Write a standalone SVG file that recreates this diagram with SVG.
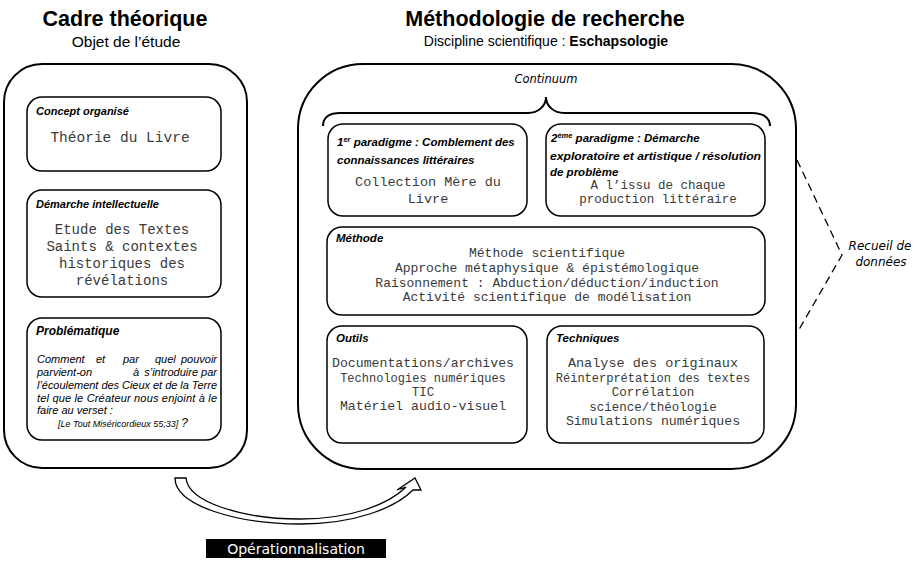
<svg xmlns="http://www.w3.org/2000/svg" width="917" height="564" viewBox="0 0 917 564">
<defs>
<style>
.outer{fill:#fff;stroke:#000;stroke-width:2}
.box{fill:#fff;stroke:#000;stroke-width:1.5}
.title{font-family:"Liberation Sans",Arial,sans-serif;font-weight:bold;font-size:21.5px;fill:#000;text-anchor:middle}
.sub{font-family:"Liberation Sans",Arial,sans-serif;font-size:14px;fill:#000;text-anchor:middle}
.lab{font-family:"Liberation Sans",Arial,sans-serif;font-weight:bold;font-style:italic;font-size:11px;fill:#000}
.mono{font-family:"Liberation Mono","Courier New",monospace;font-size:13px;fill:#3a3a3a;text-anchor:middle}
.it{font-family:"Liberation Sans",Arial,sans-serif;font-style:italic;font-size:11px;fill:#000}
.dv{font-family:"DejaVu Sans",Verdana,sans-serif;font-style:italic;font-size:12px;fill:#000;text-anchor:middle}
.conn{fill:none;stroke:#000}
</style>
</defs>
<rect width="917" height="564" fill="#fff"/>

<g id="titles">
<text class="title" x="125" y="26">Cadre théorique</text>
<text class="sub" x="126" y="47" style="font-size:15.5px">Objet de l’étude</text>
<text class="title" x="545" y="26">Méthodologie de recherche</text>
<text class="sub" x="546" y="46">Discipline scientifique : <tspan font-weight="bold">Eschapsologie</tspan></text>
</g>

<g id="cadre-theorique">
<rect class="outer" x="4" y="64" width="243" height="404" rx="38"/>
</g>

<g id="concept-organise">
<rect class="box" x="27" y="97" width="194" height="74" rx="15"/>
<text class="lab" x="36" y="115">Concept organisé</text>
<text class="mono" x="120" y="142" style="font-size:14.5px">Théorie du Livre</text>
</g>

<g id="demarche-intellectuelle">
<rect class="box" x="27" y="190" width="194" height="107" rx="15"/>
<text class="lab" x="36" y="208">Démarche intellectuelle</text>
<text class="mono" style="font-size:14px"><tspan x="122" y="234">Etude des Textes</tspan><tspan x="122" y="251">Saints &amp; contextes</tspan><tspan x="122" y="268">historiques des</tspan><tspan x="122" y="285">révélations</tspan></text>
</g>

<g id="problematique">
<rect class="box" x="27" y="318" width="194" height="122" rx="15"/>
<text class="lab" x="36" y="335" style="font-size:12px">Problématique</text>
<text class="it" x="37" y="363">Comment</text>
<text class="it" x="96" y="363">et</text>
<text class="it" x="123" y="363">par</text>
<text class="it" x="155" y="363">quel</text>
<text class="it" x="217" y="363" text-anchor="end">pouvoir</text>
<text class="it" x="37" y="376">parvient-on</text>
<text class="it" x="133" y="376">à</text>
<text class="it" x="217" y="376" text-anchor="end">s’introduire par</text>
<text class="it" x="37" y="389" textLength="180" lengthAdjust="spacing">l’écoulement des Cieux et de la Terre</text>
<text class="it" x="37" y="402" textLength="180" lengthAdjust="spacing">tel que le Créateur nous enjoint à le</text>
<text class="it" x="37" y="414">faire au verset :</text>
<text class="it" x="58" y="427"><tspan style="font-size:9px">[Le Tout Miséricordieux 55;33]</tspan> <tspan style="font-size:12px">?</tspan></text>
</g>

<g id="methodologie">
<rect class="outer" x="298" y="64" width="498" height="405" rx="65"/>
<text class="dv" x="546" y="83" style="font-size:11.5px">Continuum</text>
</g>

<g id="paradigme-1">
<rect class="box" x="328" y="124" width="199" height="92" rx="15"/>
<text class="lab" style="font-size:11.5px"><tspan x="337" y="146">1<tspan dy="-4" style="font-size:7.5px">er</tspan><tspan dy="4"> paradigme : Comblement des</tspan></tspan><tspan x="337" y="164">connaissances littéraires</tspan></text>
<text class="mono" style="font-size:13.5px"><tspan x="428" y="186">Collection Mère du</tspan><tspan x="428" y="203">Livre</tspan></text>
</g>

<g id="paradigme-2">
<rect class="box" x="546" y="124" width="219" height="92" rx="15"/>
<text class="lab" style="font-size:11.5px"><tspan x="551" y="142">2<tspan dy="-4" style="font-size:7.5px">ème</tspan><tspan dy="4"> paradigme : Démarche</tspan></tspan></text>
<text class="lab" x="550" y="160" style="font-size:11.5px" textLength="211" lengthAdjust="spacingAndGlyphs">exploratoire et artistique / résolution</text>
<text class="lab" x="550" y="176" style="font-size:11.5px">de problème</text>
<text class="mono" style="font-size:12.5px"><tspan x="658" y="189">A l’issu de chaque</tspan><tspan x="658" y="203">production littéraire</tspan></text>
</g>

<g id="methode">
<rect class="box" x="327" y="227" width="438" height="88" rx="15"/>
<text class="lab" x="336" y="242" style="font-size:11.5px">Méthode</text>
<text class="mono"><tspan x="547" y="257">Méthode scientifique</tspan><tspan x="547" y="272">Approche métaphysique &amp; épistémologique</tspan><tspan x="547" y="287">Raisonnement : Abduction/déduction/induction</tspan><tspan x="547" y="301">Activité scientifique de modélisation</tspan></text>
</g>

<g id="outils">
<rect class="box" x="327" y="326" width="200" height="117" rx="15"/>
<text class="lab" x="336" y="342" style="font-size:11.5px">Outils</text>
<text class="mono"><tspan x="423" y="367" style="font-size:13.2px">Documentations/archives</tspan><tspan x="423" y="382" style="font-size:12px">Technologies numériques</tspan><tspan x="423" y="396" style="font-size:12.5px">TIC</tspan><tspan x="423" y="410" style="font-size:13.2px">Matériel audio-visuel</tspan></text>
</g>

<g id="techniques">
<rect class="box" x="547" y="326" width="217" height="117" rx="15"/>
<text class="lab" x="556" y="342" style="font-size:11.5px">Techniques</text>
<text class="mono"><tspan x="653" y="367" style="font-size:13.5px">Analyse des originaux</tspan><tspan x="653" y="382" style="font-size:12px">Réinterprétation des textes</tspan><tspan x="653" y="396" style="font-size:12.5px">Corrélation</tspan><tspan x="653" y="411" style="font-size:12.5px">science/théologie</tspan><tspan x="653" y="425" style="font-size:13.2px">Simulations numériques</tspan></text>
</g>

<g id="recueil-de-donnees">
<text class="dv"><tspan x="880" y="250">Recueil de</tspan><tspan x="881" y="266">données</tspan></text>
</g>

<g id="operationnalisation">
<rect x="206" y="539" width="180" height="19" fill="#000"/>
<text x="296" y="554" style="font-family:'DejaVu Sans',Verdana,sans-serif;font-size:14px;fill:#fff;text-anchor:middle">Opérationnalisation</text>
</g>

<g id="connectors">
<path class="conn" stroke-width="2" d="M323,126 C323,117 330,113 340,113 L528,113 C538,113 546,106 546,97 C546,106 554,113 564,113 L752,113 C762,113 770,117 770,126"/>
<path class="conn" stroke-width="1.3" stroke-dasharray="8 5" d="M797,160 L842,255 L797,333"/>
<path fill="#fff" stroke="#000" stroke-width="1.3" stroke-linejoin="miter" d="M175,478 C175,506 238,524 300,524 C355,524 395,508 413,490 L421,490 L415,478 L397,490 L406,487 C388,505 350,519 300,519 C242,519 188,502 186,478 Z"/>
</g>
</svg>
